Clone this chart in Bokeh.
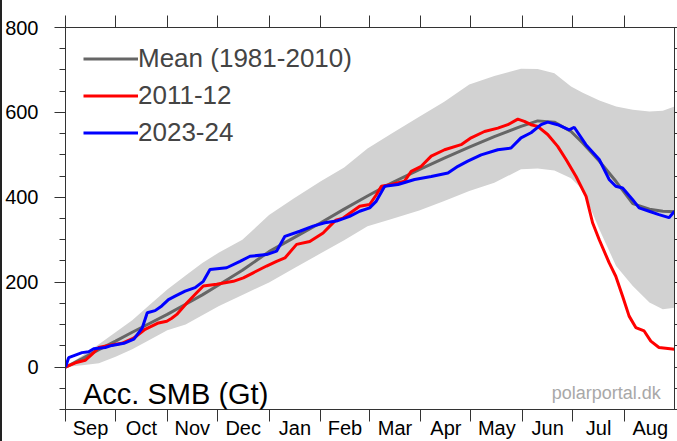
from bokeh.plotting import figure
from bokeh.layouts import row
from bokeh.models import (FixedTicker, LinearAxis, Range1d, Label, Legend,
                          LegendItem, CustomJSTickFormatter, Spacer)
from bokeh.embed import file_html
from bokeh.resources import INLINE

FONT = "Liberation Sans"

# Season runs 1 Sep -> 31 Aug; x is the day of the season.
month_names = ["Sep", "Oct", "Nov", "Dec", "Jan", "Feb",
               "Mar", "Apr", "May", "Jun", "Jul", "Aug"]
month_starts = [0, 30, 61, 91, 122, 153, 182, 213, 243, 274, 304, 335, 366]

# 1981-2010 climatology: mean and min/max envelope (Gt)
clim_days = [0, 10, 20, 30, 40, 50, 61, 72, 82, 92, 106, 122, 137, 153, 167,
             181, 195, 212, 227, 242, 257, 273, 283, 293, 303, 310, 320, 330,
             340, 350, 358, 365]
clim_mean = [0, 20, 41, 61, 82, 102, 124, 148, 170, 194, 228, 272, 305, 340,
             372, 403, 433, 465, 492, 518, 543, 567, 580, 577, 555, 528, 485,
             437, 385, 372, 367, 366]
clim_low = [0, 4, 9, 24, 42, 63, 87, 100, 122, 144, 170, 199, 233, 268, 299,
            332, 348, 369, 391, 415, 434, 466, 468, 463, 445, 418, 324, 238,
            191, 152, 136, 140]
clim_high = [0, 27, 54, 82, 110, 145, 183, 216, 245, 270, 300, 358, 398, 438,
             470, 515, 549, 590, 625, 666, 686, 703, 702, 692, 661, 646, 628,
             614, 606, 602, 604, 614]

# Season 2011-12
s2011_days = [0, 5.9, 11.8, 15.8, 19.9, 25.8, 33.8, 40.8, 47.7, 55.7, 60.7,
              63.7, 66.7, 72.7, 78.6, 82.6, 90.6, 100.6, 106.6, 112.5, 120.5,
              126.5, 131.5, 138.5, 146.4, 154.4, 158.4, 162.0, 166.4, 176.3,
              182.3, 186.3, 189.3, 195.3, 203.2, 207.2, 213.2, 219.2, 227.2,
              237.1, 243.1, 251.1, 259.1, 265.1, 271.1, 275, 279, 283, 289,
              295, 300, 306, 312, 315.9, 319.9, 325.8, 329.8, 333.9, 337.8,
              341.8, 346.8, 350.8, 355.7, 365]
s2011_vals = [0, 10, 16, 30, 46, 51, 56, 68, 89, 104, 108, 115, 124, 151, 175,
              191, 195, 202, 210, 222, 238, 249, 257, 289, 296, 316, 332, 346,
              351, 379, 383, 406, 426, 430, 438, 461, 473, 497, 512, 524, 540,
              555, 563, 571, 584, 579, 571, 567, 548, 520, 489, 449, 402, 340,
              300, 246, 214, 167, 120, 93, 85, 61, 46, 42]

# Season 2023-24
s2023_days = [0, 1.9, 5.9, 9.9, 13.9, 16.9, 23.8, 27.8, 35, 41, 46, 49, 53.7,
              57.7, 61.7, 65.7, 71.7, 77.7, 82.6, 86.6, 96.6, 104.6, 110.6,
              120.5, 126.5, 131.5, 140.4, 148.4, 155.4, 162.4, 170.3, 176.3,
              182.3, 186.3, 191.3, 199.3, 209.2, 219.2, 229.2, 235.2, 241.1,
              249.1, 259.1, 267, 273, 279, 285, 289, 295, 301.9, 304.9, 311.9,
              319.9, 325.8, 329.8, 333.9, 339.8, 343.8, 349.8, 355.7, 361.7,
              365]
s2023_vals = [0, 22, 28, 34, 36, 43, 46, 51, 56, 66, 92, 128, 133, 144, 159,
              167, 179, 187, 202, 230, 234, 249, 261, 265, 273, 308, 320, 332,
              340, 344, 355, 367, 375, 391, 426, 430, 442, 449, 457, 473, 485,
              500, 512, 516, 540, 552, 571, 577, 571, 559, 565, 524, 489, 442,
              426, 422, 395, 375, 367, 359, 352, 367]

y_major = [0, 200, 400, 600, 800]
y_minor = list(range(-100, 801, 50))

AX = "#333333"

p = figure(width=675, height=441, output_backend="svg", toolbar_location=None,
           x_range=Range1d(0, 365), y_range=Range1d(-100, 800),
           x_axis_location=None, y_axis_location=None,
           min_border_left=61, min_border_right=3, min_border_top=27,
           min_border_bottom=30, background_fill_color="white",
           border_fill_color="white", outline_line_color=AX,
           outline_line_width=1)
p.xgrid.visible = False
p.ygrid.visible = False

blank = CustomJSTickFormatter(code="return '';")


def style_axis(ax):
    ax.axis_line_color = AX
    ax.axis_line_width = 1
    ax.major_tick_line_color = AX
    ax.minor_tick_line_color = AX
    ax.major_tick_in = 0
    ax.minor_tick_in = 0
    ax.major_label_text_font = FONT
    ax.major_label_text_font_size = "20px"
    ax.major_label_text_color = "black"


# month names centred in each month, month boundaries drawn as ticks
mids = [(a + b) / 2 for a, b in zip(month_starts[:-1], month_starts[1:])]
bottom = LinearAxis(ticker=FixedTicker(ticks=mids, minor_ticks=month_starts))
style_axis(bottom)
bottom.major_tick_out = 0
bottom.minor_tick_out = 12
bottom.major_label_standoff = -5
bottom.major_label_text_line_height = 0.8
bottom.formatter = CustomJSTickFormatter(
    args=dict(names=month_names, starts=month_starts),
    code="""
    for (let i = 0; i < names.length; i++) {
        if (tick > starts[i] && tick < starts[i + 1]) return names[i];
    }
    return "";
    """)
p.add_layout(bottom, "below")

top = LinearAxis(ticker=FixedTicker(ticks=month_starts), formatter=blank)
style_axis(top)
top.major_tick_out = 12
top.major_label_standoff = 0
top.major_label_text_font_size = "1px"
p.add_layout(top, "above")

left = LinearAxis(ticker=FixedTicker(ticks=y_major, minor_ticks=y_minor))
style_axis(left)
left.major_tick_out = 11
left.minor_tick_out = 6
left.major_label_standoff = 16
p.add_layout(left, "left")

right = LinearAxis(ticker=FixedTicker(ticks=y_major, minor_ticks=y_minor),
                   formatter=blank)
style_axis(right)
right.major_tick_out = 3
right.minor_tick_out = 3
right.major_label_standoff = 0
right.major_label_text_font_size = "1px"
p.add_layout(right, "right")

# climatological range
p.varea(x=clim_days, y1=clim_low, y2=clim_high, fill_color="#d2d2d2")

r_mean = p.line(clim_days, clim_mean, line_color="#666666", line_width=3)
r_2011 = p.line(s2011_days, s2011_vals, line_color="#ff0000", line_width=3)
r_2023 = p.line(s2023_days, s2023_vals, line_color="#0000ff", line_width=3)

legend = Legend(items=[
    LegendItem(label="Mean (1981-2010)", renderers=[r_mean]),
    LegendItem(label="2011-12", renderers=[r_2011]),
    LegendItem(label="2023-24", renderers=[r_2023]),
], location=(18, 261))
legend.label_text_font = FONT
legend.label_text_font_size = "26px"
legend.glyph_width = 55
legend.glyph_height = 29
legend.label_height = 29
legend.label_standoff = 0
legend.spacing = 6
legend.padding = 0
legend.margin = 0
legend.border_line_alpha = 0
legend.background_fill_alpha = 0
p.add_layout(legend)

p.add_layout(Label(x=10.5, y=-64, text="Acc. SMB (Gt)", text_font=FONT,
                   text_font_size="29px", text_color="black",
                   text_baseline="alphabetic"))
p.add_layout(Label(x=356.8, y=-60.7, text="polarportal.dk", text_font=FONT,
                   text_font_size="18px", text_color="#a8a8a8",
                   text_align="right", text_baseline="alphabetic"))

# thin dark frame edge on the left of the page
edge = Spacer(width=2, height=441, styles={"background-color": "#222222"})
page = row(edge, p, spacing=0)

open("out.html", "w").write(file_html(page, INLINE))
